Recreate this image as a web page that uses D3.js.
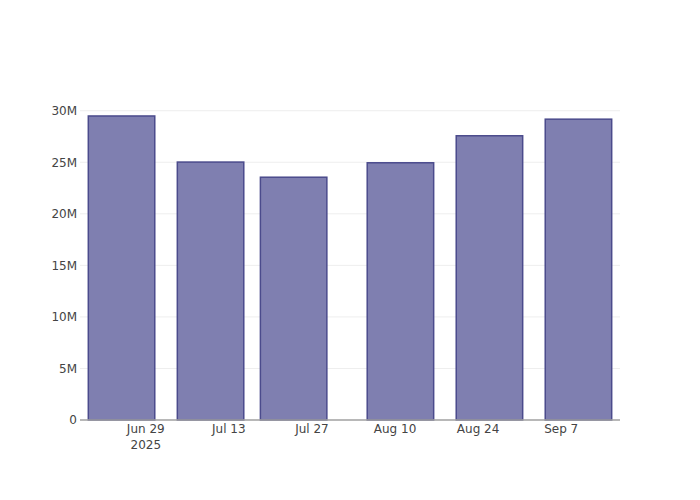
<!DOCTYPE html>
<html>
<head>
<meta charset="utf-8">
<script src="https://cdn.jsdelivr.net/npm/d3@7"></script>
<style>
  html, body { margin: 0; padding: 0; background: #fff; }
  svg { display: block; }
  text { font-family: "DejaVu Sans", Verdana, sans-serif; }
</style>
</head>
<body>
<svg id="chart" width="700" height="500"></svg>
<script>
// ---- data ----
const dates = ["2025-06-25", "2025-07-10", "2025-07-24", "2025-08-11", "2025-08-26", "2025-09-10"];
const values = [29.49e6, 25.02e6, 23.55e6, 24.95e6, 27.57e6, 29.18e6];
const xTicks = ["2025-06-29", "2025-07-13", "2025-07-27", "2025-08-10", "2025-08-24", "2025-09-07"];
const yTicks = [0, 5e6, 10e6, 15e6, 20e6, 25e6, 30e6];

const parse = d3.utcParse("%Y-%m-%d");
const W = 700, H = 500;
const margin = { l: 80, r: 80, t: 100, b: 80 };
const pw = W - margin.l - margin.r, ph = H - margin.t - margin.b;
const FONT = '"DejaVu Sans", Verdana, sans-serif';

const xd = dates.map(parse);
const DAY = 864e5;
const slot = 14 * DAY;
const x = d3.scaleUtc()
  .domain([new Date(+xd[0] - slot / 2), new Date(+xd[xd.length - 1] + slot / 2)])
  .range([0, pw]);
const y = d3.scaleLinear().domain([0, 31.04e6]).range([ph, 0]);

const svg = d3.select("#chart");
const g = svg.append("g").attr("transform", `translate(${margin.l},${margin.t})`);

// gridlines
g.append("g").selectAll("line").data(yTicks.filter(d => d > 0)).join("line")
  .attr("x1", 0).attr("x2", pw)
  .attr("y1", d => y(d)).attr("y2", d => y(d))
  .attr("stroke", "#eeeeee").attr("stroke-width", 1);

// bars
const barW = 0.8 * slot;
g.append("g").selectAll("rect").data(values).join("rect")
  .attr("x", (d, i) => x(new Date(+xd[i] - barW / 2)))
  .attr("width", (d, i) => x(new Date(+xd[i] + barW / 2)) - x(new Date(+xd[i] - barW / 2)))
  .attr("y", d => y(d))
  .attr("height", d => y(0) - y(d))
  .attr("fill", "#7f7fb0")
  .attr("stroke", "#4b4b8c")
  .attr("stroke-width", 1.5);

// x axis line
g.append("line").attr("x1", 0).attr("x2", pw).attr("y1", ph).attr("y2", ph)
  .attr("stroke", "#a0a0a0").attr("stroke-width", 1.5);

// y axis
const yAxis = d3.axisLeft(y).tickValues(yTicks).tickSize(0).tickPadding(3)
  .tickFormat(d => d === 0 ? "0" : (d / 1e6) + "M");
const ya = g.append("g").call(yAxis);
ya.select(".domain").remove();
ya.selectAll("text").attr("fill", "#444").style("font-size", "12px")
  .style("font-family", FONT);

// x axis
const fmt = d3.utcFormat("%b %-d");
const xAxis = d3.axisBottom(x).tickValues(xTicks.map(parse)).tickSize(0).tickPadding(0)
  .tickFormat(fmt);
const xa = g.append("g").attr("transform", `translate(0,${ph})`).call(xAxis);
xa.select(".domain").remove();
xa.selectAll("text").attr("y", 13).attr("dy", 0).attr("fill", "#444")
  .style("font-size", "12px").style("font-family", FONT);
xa.selectAll(".tick").filter((d, i) => i === 0).append("text")
  .attr("y", 29).attr("text-anchor", "middle")
  .attr("fill", "#444").style("font-size", "12px")
  .style("font-family", FONT)
  .text(d3.utcFormat("%Y")(parse(xTicks[0])));
</script>
</body>
</html>
